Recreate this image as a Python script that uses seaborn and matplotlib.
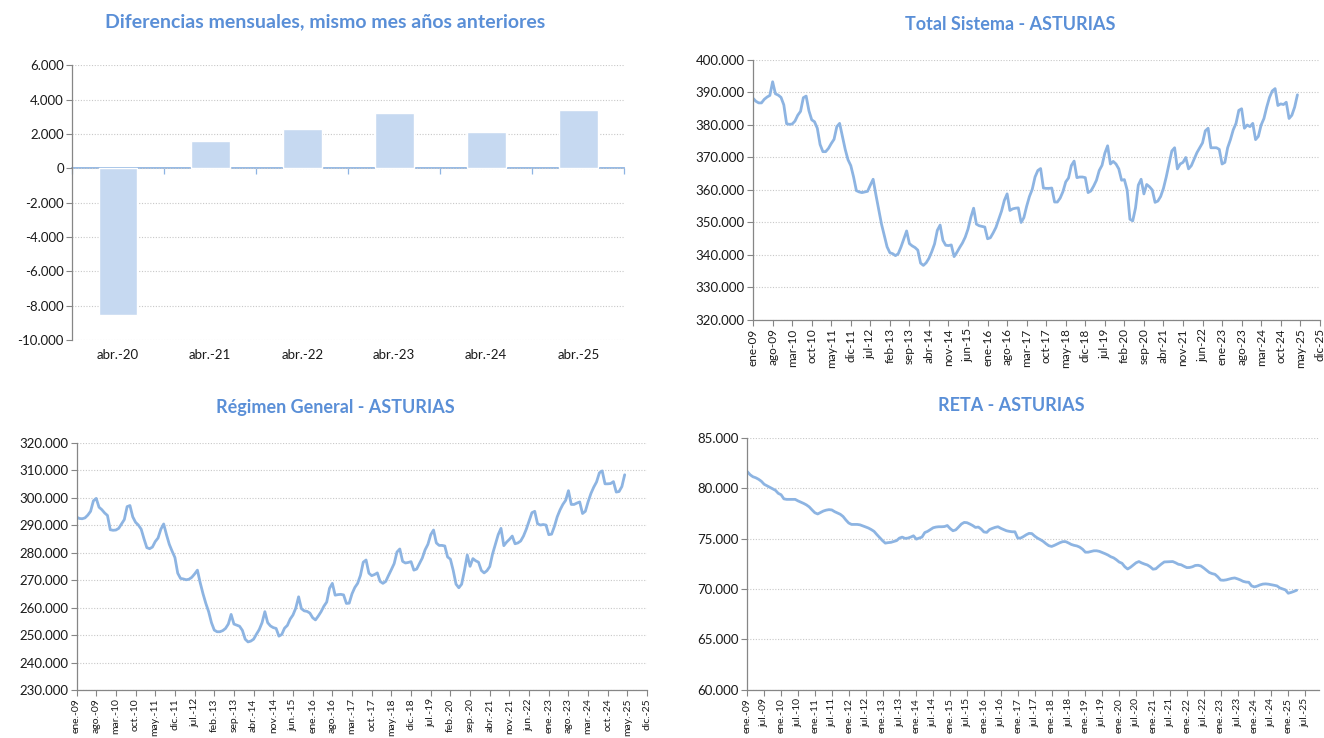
# Afiliación a la Seguridad Social - ASTURIAS (4 paneles)

import numpy as np
import pandas as pd
import matplotlib
matplotlib.use("Agg")
import matplotlib.pyplot as plt
import matplotlib.ticker as mticker
import seaborn as sns

# --- datos ---
BAR_LABELS = ["abr.-20", "abr.-21", "abr.-22", "abr.-23", "abr.-24", "abr.-25"]
BAR_VALUES = [-8550, 1590, 2280, 3210, 2130, 3370]

# series mensuales ene-09 .. abr-25, en miles
TOTAL_SISTEMA = [
    388.2, 387.3, 386.8, 386.8, 387.9, 388.6, 389.1, 393.3, 389.6, 389.2, 388.5, 386.2,
    380.4, 380.2, 380.3, 381.2, 383.0, 384.2, 388.4, 388.9, 384.4, 381.6, 381.0, 379.0,
    374.0, 371.8, 371.8, 372.8, 374.3, 375.6, 379.5, 380.5, 376.5, 372.5, 369.3, 367.5,
    364.0, 359.8, 359.4, 359.2, 359.4, 359.6, 361.5, 363.3, 358.5, 354.0, 349.5, 346.0,
    342.5, 340.7, 340.4, 339.8, 340.4, 342.5, 345.0, 347.4, 343.5, 342.8, 342.3, 341.5,
    337.5, 336.8, 337.6, 339.0, 341.0, 343.4, 347.6, 349.2, 344.5, 343.0, 342.9, 343.1,
    339.5, 340.8, 342.3, 343.7, 345.5, 348.0, 351.6, 354.4, 349.5, 349.0, 348.8, 348.6,
    345.0, 345.3, 346.8, 348.5, 351.0, 353.5, 356.8, 358.8, 353.7, 354.2, 354.4, 354.5,
    350.0, 351.5, 355.0, 358.0, 360.2, 364.0, 366.0, 366.6, 360.6, 360.5, 360.5, 360.6,
    356.3, 356.3, 357.5, 359.5, 362.5, 363.7, 367.5, 368.9, 363.8, 364.0, 364.0, 363.8,
    359.2, 359.7, 361.2, 363.0, 366.0, 367.6, 371.3, 373.6, 368.0, 368.8, 368.0, 366.5,
    363.0, 363.2, 360.0, 351.0, 350.5, 354.5, 361.5, 363.3, 358.8, 361.7, 361.0, 360.0,
    356.2, 356.6, 358.0, 360.5, 364.0, 368.0, 372.0, 373.0, 366.5, 368.0, 368.5, 370.0,
    366.5, 367.5, 369.5, 371.5, 373.0, 374.5, 378.2, 379.0, 373.0, 373.0, 373.0, 372.5,
    368.0, 368.5, 373.0, 375.5, 378.5, 380.5, 384.5, 385.0, 379.0, 380.0, 379.5, 380.5,
    375.5, 376.5, 380.0, 382.0, 385.5, 388.5, 390.5, 391.2, 386.0, 386.5, 386.3, 387.0,
    382.0, 383.0, 385.5, 389.3,
]

REGIMEN_GENERAL = [
    292.9, 292.4, 292.3, 292.6, 293.6, 295.0, 298.8, 299.7, 296.5, 295.6, 294.4, 293.5,
    288.3, 288.1, 288.2, 288.8, 290.4, 292.0, 296.7, 297.1, 293.0, 291.0, 290.0, 288.5,
    285.0, 281.8, 281.4, 282.0, 284.0, 285.3, 288.5, 290.4, 286.5, 283.0, 280.5, 278.2,
    272.5, 270.6, 270.4, 270.1, 270.3, 271.0, 272.2, 273.6, 269.0, 265.0, 261.5, 258.5,
    254.5, 251.8, 251.2, 251.2, 251.6, 252.4, 254.0, 257.5, 254.0, 253.6, 253.2, 251.7,
    248.5, 247.5, 247.8, 248.5, 250.3, 252.0, 254.5, 258.5, 254.5, 253.3, 252.7, 252.4,
    249.6, 250.2, 252.5, 253.5, 255.8, 257.3, 259.8, 263.9, 259.6, 258.8, 258.6, 258.0,
    256.3, 255.5, 256.9, 258.5, 260.5, 262.0, 267.0, 268.8, 264.5, 264.7, 264.8, 264.6,
    261.5, 261.6, 265.0, 267.3, 268.8, 271.7, 276.5, 277.3, 272.5, 271.6, 272.0, 272.6,
    269.5, 268.8, 269.5, 271.7, 273.8, 276.0, 280.2, 281.3, 276.8, 276.2, 276.4, 276.7,
    273.6, 274.0, 276.0, 278.0, 281.0, 283.0, 286.5, 288.2, 283.5, 282.6, 282.6, 282.4,
    278.4, 277.6, 273.5, 268.5, 267.2, 268.5, 273.5, 279.1, 275.0, 277.8, 277.0, 276.5,
    273.5, 272.6, 273.4, 274.9, 279.5, 283.0, 286.5, 288.8, 282.5, 283.8, 284.8, 286.0,
    283.2, 283.5, 284.2, 286.0, 288.5, 291.5, 294.5, 295.0, 290.5, 290.0, 290.2, 290.0,
    286.5, 286.7, 289.5, 293.0, 295.5, 297.5, 299.0, 302.5, 297.5, 297.5, 298.0, 298.4,
    294.2, 295.0, 298.5, 301.5, 303.8, 305.7, 309.0, 309.7, 305.0, 305.0, 305.1, 305.8,
    302.0, 302.2, 304.0, 308.3,
]

RETA = [
    81.66, 81.35, 81.15, 81.05, 80.90, 80.70, 80.40, 80.25, 80.10, 79.95, 79.80, 79.50,
    79.36, 78.95, 78.90, 78.90, 78.90, 78.90, 78.75, 78.63, 78.50, 78.35, 78.15, 77.85,
    77.57, 77.45, 77.60, 77.74, 77.83, 77.88, 77.85, 77.68, 77.55, 77.42, 77.20, 76.85,
    76.55, 76.41, 76.41, 76.41, 76.37, 76.27, 76.16, 76.05, 75.90, 75.72, 75.40, 75.10,
    74.80, 74.55, 74.60, 74.63, 74.72, 74.80, 75.05, 75.15, 75.02, 75.05, 75.15, 75.28,
    74.95, 75.05, 75.15, 75.60, 75.72, 75.90, 76.08, 76.15, 76.18, 76.18, 76.20, 76.30,
    76.00, 75.78, 75.87, 76.15, 76.45, 76.61, 76.58, 76.45, 76.30, 76.11, 76.15, 75.95,
    75.66, 75.62, 75.90, 76.02, 76.12, 76.18, 76.02, 75.90, 75.78, 75.72, 75.68, 75.68,
    75.05, 75.05, 75.20, 75.38, 75.52, 75.50, 75.25, 75.05, 74.90, 74.73, 74.50, 74.30,
    74.22, 74.33, 74.46, 74.60, 74.70, 74.70, 74.57, 74.42, 74.33, 74.27, 74.15, 73.95,
    73.65, 73.65, 73.72, 73.79, 73.79, 73.73, 73.62, 73.50, 73.37, 73.20, 73.09, 72.90,
    72.67, 72.55, 72.20, 71.98, 72.15, 72.38, 72.60, 72.72, 72.58, 72.47, 72.38, 72.20,
    71.96, 72.00, 72.25, 72.48, 72.68, 72.69, 72.69, 72.72, 72.60, 72.45, 72.40, 72.25,
    72.12, 72.13, 72.20, 72.33, 72.35, 72.28, 72.08, 71.85, 71.63, 71.52, 71.45, 71.20,
    70.88, 70.86, 70.90, 70.98, 71.05, 71.09, 71.00, 70.89, 70.75, 70.68, 70.66, 70.30,
    70.20, 70.28, 70.40, 70.48, 70.50, 70.47, 70.42, 70.36, 70.30, 70.10, 70.00, 69.90,
    69.57, 69.65, 69.75, 69.87,
]

MESES = ["ene", "feb", "mar", "abr", "may", "jun", "jul", "ago", "sep", "oct", "nov", "dic"]

# --- estilo ---
TITLE_COLOR = "#5A8FD7"
LINE_COLOR = "#8DB4E2"
BAR_COLOR = "#C6D9F1"
ZERO_COLOR = "#8EB4E3"
AXIS_COLOR = "#868686"
GRID_COLOR = "#C8C8C8"

sns.set_theme(style="white")
plt.rcParams["font.family"] = ["Lato", "DejaVu Sans"]
plt.rcParams["text.color"] = "#1A1A1A"
plt.rcParams["xtick.color"] = "#1A1A1A"
plt.rcParams["ytick.color"] = "#1A1A1A"


def miles(v, pos):
    return f"{v:,.0f}".replace(",", ".")


def month_label(i, dot):
    sep = ".-" if dot else "-"
    return f"{MESES[i % 12]}{sep}{(9 + i // 12):02d}"


def style_axes(ax):
    ax.set_xlabel("")
    ax.set_ylabel("")
    ax.set_axisbelow(True)
    ax.yaxis.grid(True, linestyle=(0, (1, 1.5)), color=GRID_COLOR, linewidth=0.8)
    ax.xaxis.grid(False)
    for s in ["top", "right"]:
        ax.spines[s].set_visible(False)
    for s in ["left", "bottom"]:
        ax.spines[s].set_color(AXIS_COLOR)
        ax.spines[s].set_linewidth(0.9)
    ax.tick_params(axis="both", direction="out", length=4, width=0.8,
                   color=AXIS_COLOR, left=True, bottom=True, pad=2)
    ax.yaxis.set_major_formatter(mticker.FuncFormatter(miles))
    ax.tick_params(axis="y", labelsize=9.5)


def line_panel(rect, values, ylim, step_y, tick_every, last_tick, dot, xsize):
    ax = fig.add_axes(rect)
    df = pd.DataFrame({"mes": np.arange(len(values)),
                       "afiliados": np.array(values) * 1000})
    sns.lineplot(data=df, x="mes", y="afiliados", ax=ax,
                 color=LINE_COLOR, linewidth=2.0)
    ax.set_xlim(0, 203)
    ax.set_ylim(*ylim)
    ax.set_yticks(np.arange(ylim[0], ylim[1] + 1, step_y))
    ticks = np.arange(0, last_tick + 1, tick_every)
    ax.set_xticks(ticks)
    ax.set_xticklabels([month_label(t, dot) for t in ticks], rotation=90, fontsize=xsize)
    style_axes(ax)
    return ax


fig = plt.figure(figsize=(13.24, 7.38), dpi=100)

# panel 1: diferencias mensuales (barras)
ax0 = fig.add_axes([0.0545, 0.539, 0.417, 0.3726])
dfb = pd.DataFrame({"mes": BAR_LABELS, "diferencia": BAR_VALUES})
sns.barplot(data=dfb, x="mes", y="diferencia", ax=ax0, color=BAR_COLOR,
            width=0.42, saturation=1)
ax0.set_xlim(-0.5, len(BAR_LABELS) - 0.5)
ax0.set_ylim(-10000, 6000)
ax0.set_yticks(np.arange(-10000, 6001, 2000))
style_axes(ax0)
ax0.spines["bottom"].set_visible(False)
ax0.tick_params(axis="x", length=0, labelsize=9.5, pad=6)

# eje en el cero con marcas entre categorías
zero_ax = ax0.secondary_xaxis(0, transform=ax0.transData)
zero_ax.set_xticks(np.arange(-0.5, len(BAR_LABELS), 1))
zero_ax.tick_params(axis="x", bottom=True, length=4, width=0.9,
                    color=ZERO_COLOR, labelbottom=False)
zero_ax.spines["bottom"].set_color(ZERO_COLOR)
zero_ax.spines["bottom"].set_linewidth(1.3)

# panel 2: total sistema
line_panel([0.5688, 0.5664, 0.428, 0.3523], TOTAL_SISTEMA,
           (320000, 400000), 10000, 7, 203, dot=False, xsize=8.5)

# panel 3: régimen general
line_panel([0.0578, 0.065, 0.431, 0.3353], REGIMEN_GENERAL,
           (230000, 320000), 10000, 7, 203, dot=True, xsize=7.5)

# panel 4: RETA
line_panel([0.5644, 0.0657, 0.432, 0.3408], RETA,
           (60000, 85000), 5000, 6, 198, dot=True, xsize=7.5)

# títulos
titles = [
    (325, 22, "Diferencias mensuales, mismo mes años anteriores", 14),
    (1010, 24, "Total Sistema - ASTURIAS", 13),
    (335, 408, "Régimen General - ASTURIAS", 13),
    (1011, 405, "RETA - ASTURIAS", 13),
]
for x, y, t, size in titles:
    fig.text(x / 1324, 1 - y / 738, t, ha="center", va="center",
             color=TITLE_COLOR, fontsize=size, fontweight="bold")

fig.savefig("out.png", dpi=100)
